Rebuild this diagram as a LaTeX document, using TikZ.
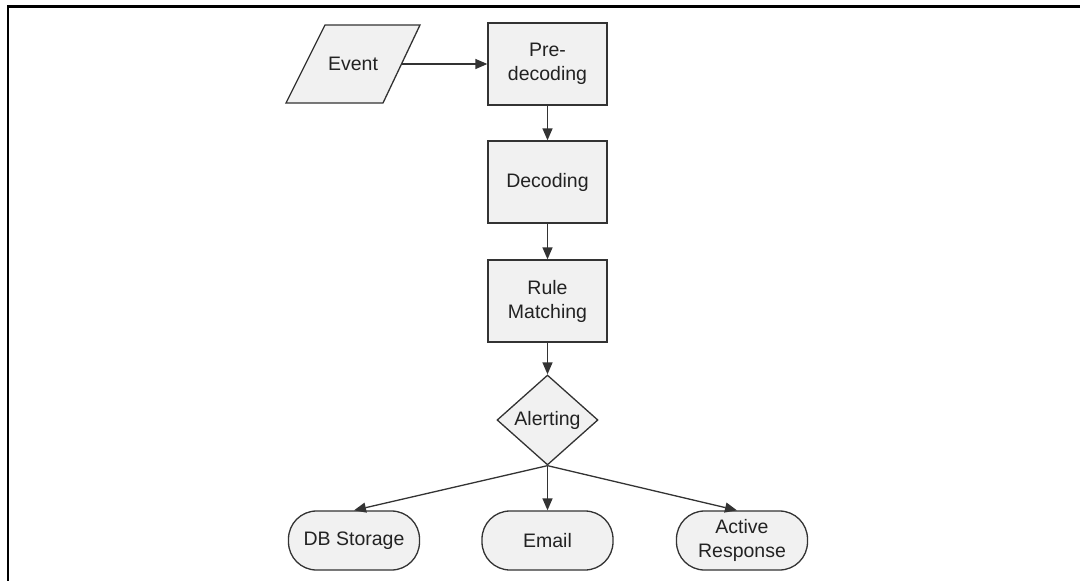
\documentclass[tikz,border=0pt]{standalone}
\usepackage{fontspec}
\setmainfont{Liberation Sans}
\usetikzlibrary{arrows.meta,shapes.geometric}
\definecolor{boxfill}{HTML}{F1F1F1}
\definecolor{edge}{HTML}{333333}
\definecolor{txt}{HTML}{222222}
\tikzset{
  every node/.style={font=\fontsize{19.5}{24}\selectfont, text=txt, align=center},
  procbox/.style={draw=edge, fill=boxfill, line width=1.3pt, minimum width=119pt, minimum height=82pt, inner sep=0pt},
  termbox/.style={draw=edge, fill=boxfill, line width=1.3pt, minimum width=131pt, minimum height=59pt, rounded corners=28pt, inner sep=0pt},
  decbox/.style={draw=edge, fill=boxfill, line width=1.3pt, shape=diamond, aspect=1.12, minimum width=101pt, minimum height=90pt, inner sep=0pt},
  conn/.style={draw=edge, line width=1.3pt, -{Triangle[length=12pt,width=10pt]}},
}
\begin{document}
\begin{tikzpicture}[x=1pt,y=-1pt]
\useasboundingbox (0,0) rectangle (1080,581);
% frame
\draw[line width=2.6pt, black] (8,581) -- (8,6.2) -- (1080,6.2);
% Event parallelogram
\filldraw[draw=edge, fill=boxfill, line width=1.3pt] (325,25) -- (420,25) -- (383,103) -- (286,103) -- cycle;
\node (event) at (353,64) {Event};
\coordinate (evr) at (401.5,64);
% process boxes
\node[procbox] (pre) at (547.5,64) {Pre-\\decoding};
\node[procbox] (dec) at (547.5,182) {Decoding};
\node[procbox] (rule) at (547.5,301) {Rule\\Matching};
\node[decbox] (alert) at (547.5,420) {Alerting};
\node[termbox] (db) at (354,540.5) {DB Storage};
\node[termbox] (email) at (547.5,540.5) {Email};
\node[termbox] (active) at (742,540.5) {Active\\Response};
% connectors
\draw[conn] (evr) -- (pre.west);
\draw[conn] (pre.south) -- (dec.north);
\draw[conn] (dec.south) -- (rule.north);
\draw[conn] (rule.south) -- (alert.north);
\draw[conn] (alert.south) -- (db.north);
\draw[conn] (alert.south) -- (email.north);
\draw[conn] (alert.south) -- ([xshift=-5pt]active.north);
\end{tikzpicture}
\end{document}
